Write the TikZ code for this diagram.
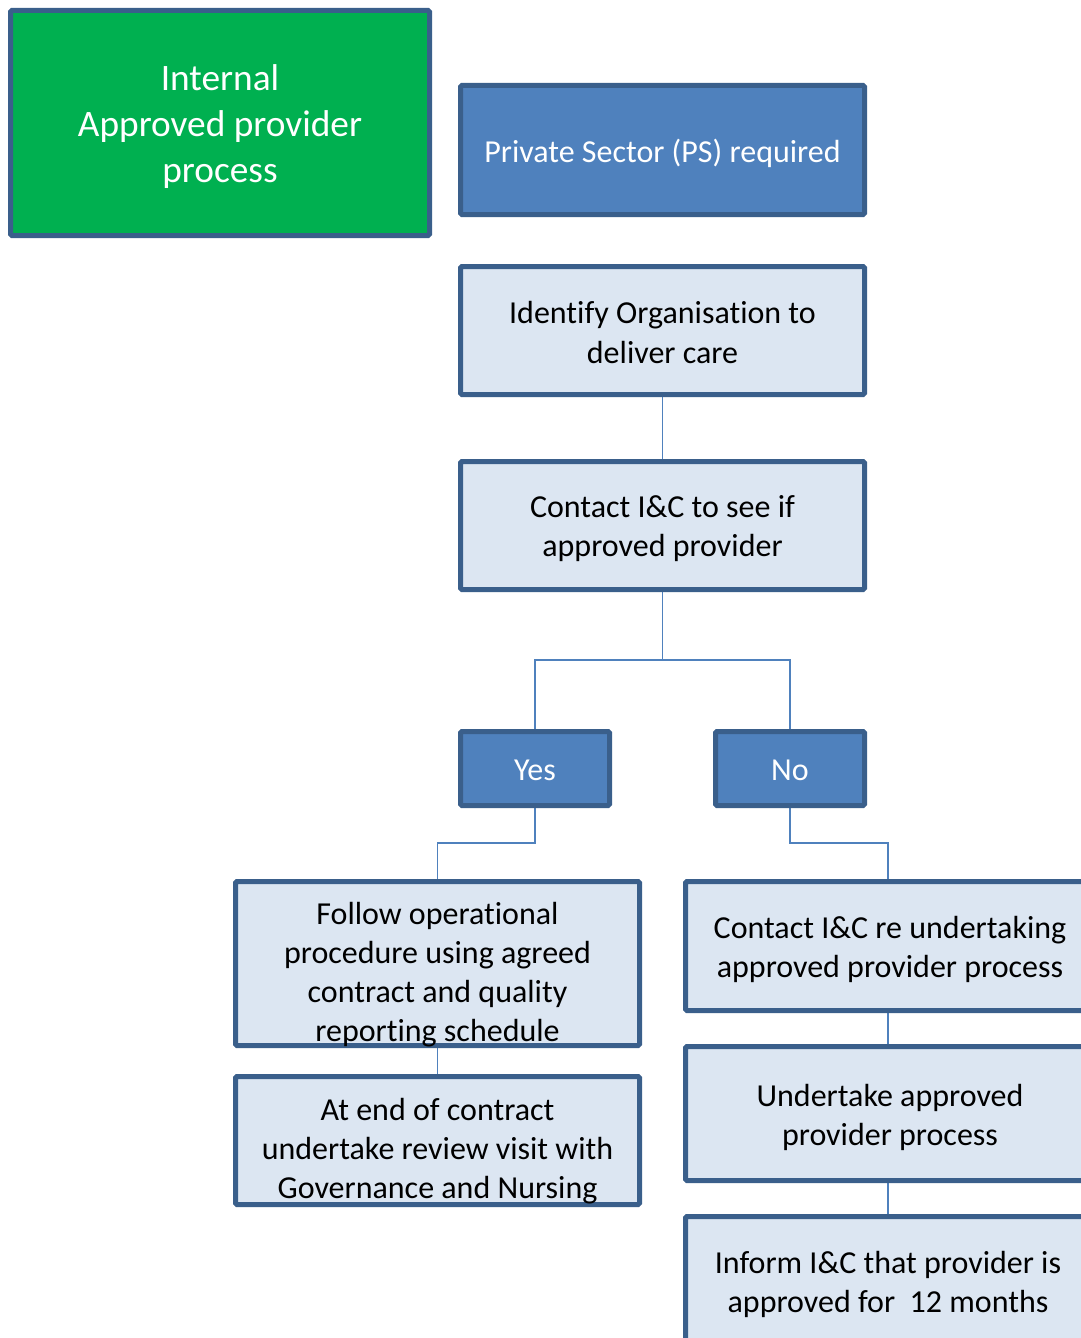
\documentclass[tikz,border=0pt]{standalone}
\usepackage{fontspec}
\setmainfont{Carlito}[Ligatures=NoCommon]
\usetikzlibrary{backgrounds}
\definecolor{bordblue}{HTML}{3A5F8B}
\definecolor{darkfill}{HTML}{4F81BD}
\definecolor{lightfill}{HTML}{DCE6F2}
\definecolor{greenfill}{HTML}{00B050}
\definecolor{connblue}{HTML}{4F81BD}
\tikzset{
  box/.style={draw=bordblue, line width=3.75pt, rounded corners=1pt, inner sep=0pt},
  lightbox/.style={box, fill=lightfill},
  darkbox/.style={box, fill=darkfill},
  greenbox/.style={box, fill=greenfill},
  darktxt/.style={text=white, align=center, inner sep=0pt, font=\fontsize{24}{29.3}\selectfont},
  lighttxt/.style={text=black, align=center, inner sep=0pt, font=\fontsize{24}{29.3}\selectfont},
  greentxt/.style={text=white, align=center, inner sep=0pt, font=\fontsize{28}{34.5}\selectfont},
  conn/.style={draw=connblue, line width=1.2pt}
}
\begin{document}
\begin{tikzpicture}[x=0.75pt,y=-0.75pt]
\useasboundingbox (0,0) rectangle (1081,1338);
\node[greenbox, minimum width=314.25pt, minimum height=168.75pt] (green) at (220,123) {};
\node[greentxt] (greent) at ([yshift=-3pt]green.center) {Internal\\Approved provider\\process};
\node[darkbox, minimum width=303pt, minimum height=96.75pt] (ps) at (662.5,150) {};
\node[darktxt] (pst) at ([yshift=-2.25pt]ps.center) {Private Sector (PS) required};
\node[lightbox, minimum width=303pt, minimum height=96pt] (ident) at (662.5,330.5) {};
\node[lighttxt] (identt) at ([yshift=-1.5pt]ident.center) {Identify Organisation to\\deliver care};
\node[lightbox, minimum width=303pt, minimum height=96pt] (contact) at (662.5,525.5) {};
\node[lighttxt] (contactt) at ([yshift=-2.6pt]contact.center) {Contact I\&C to see if\\approved provider};
\node[darkbox, minimum width=111.75pt, minimum height=55.5pt] (yes) at (535,768.5) {};
\node[darktxt] (yest) at ([yshift=-1.5pt]yes.center) {Yes};
\node[darkbox, minimum width=111.75pt, minimum height=55.5pt] (no) at (790,768.5) {};
\node[darktxt] (not) at ([yshift=-1.5pt]no.center) {No};
\node[lightbox, minimum width=303pt, minimum height=123pt] (follow) at (437.5,963.5) {};
\node[lighttxt] (followt) at ([yshift=-8.5pt]follow.center) {Follow operational\\procedure using agreed\\contract and quality\\reporting schedule};
\node[lightbox, minimum width=303pt, minimum height=96pt] (atend) at (437.5,1140.5) {};
\node[lighttxt] (atendt) at ([yshift=-8.25pt]atend.center) {At end of contract\\undertake review visit with\\Governance and Nursing};
\node[lightbox, minimum width=303.75pt, minimum height=96.75pt] (contre) at (888,946) {};
\node[lighttxt] (contret) at ([yshift=-2.25pt,xshift=1.5pt]contre.center) {Contact I\&C re undertaking\\approved provider process};
\node[lightbox, minimum width=303.75pt, minimum height=100.5pt] (undert) at (888,1113.5) {};
\node[lighttxt] (undertt) at ([yshift=-3pt,xshift=1.5pt]undert.center) {Undertake approved\\provider process};
\node[lightbox, minimum width=303.75pt, minimum height=96.75pt] (inform) at (888,1281) {};
\node[lighttxt] (informt) at ([yshift=-2.25pt]inform.center) {Inform I\&C that provider is\\approved for \ 12 months};
\coordinate (split) at (662.5,660);
\begin{scope}[on background layer]
\draw[conn] (ident.south) -- (contact.north);
\draw[conn] (contact.south) -- (split) -| (yes.north);
\draw[conn] (split) -| (no.north);
\draw[conn] (yes.south) -- (yes.south |- 0,843) -| (follow.north);
\draw[conn] (no.south) -- (no.south |- 0,843) -| (contre.north);
\draw[conn] (follow.south) -- (atend.north);
\draw[conn] (contre.south) -- (undert.north);
\draw[conn] (undert.south) -- (inform.north);
\end{scope}
\end{tikzpicture}
\end{document}
